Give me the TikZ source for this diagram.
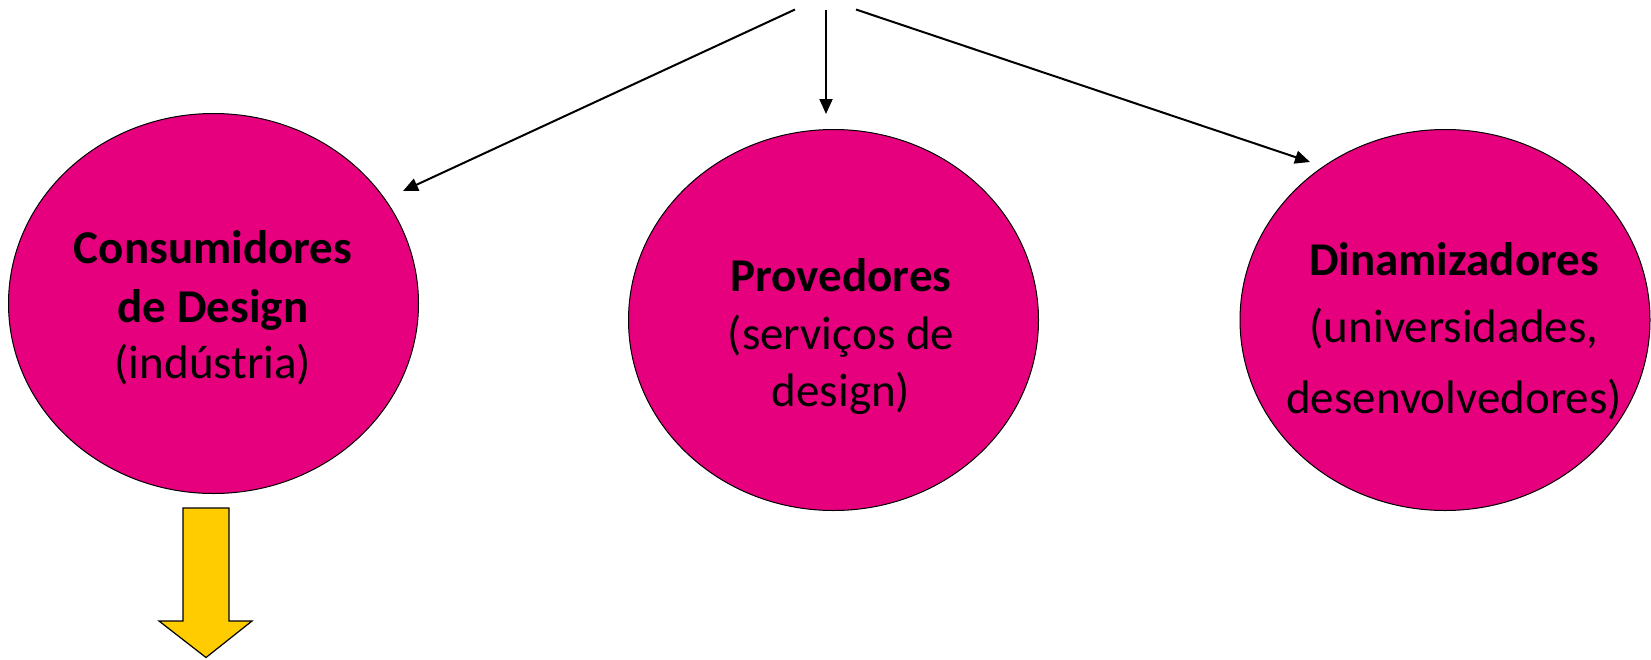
\documentclass[tikz,border=0pt]{standalone}
\usepackage{fontspec}
\setmainfont{Carlito}
\usetikzlibrary{shapes.geometric,arrows.meta}
\definecolor{mag}{RGB}{230,0,126}
\definecolor{yel}{RGB}{255,204,0}
\begin{document}
\begin{tikzpicture}[x=1pt,y=-1pt,
  blob/.style={ellipse,draw=black,line width=1pt,fill=mag,inner sep=0pt,minimum width=410pt},
  lbl/.style={anchor=base,inner sep=0pt,font=\fontsize{47}{57}\selectfont},
  blbl/.style={lbl,font=\fontsize{47}{57}\selectfont\bfseries},
  conn/.style={line width=2pt,-{Triangle[length=15pt,width=13pt]}}]
\useasboundingbox (0,0) rectangle (1651,659);
\node[blob,minimum height=380pt] (cons) at (213.5,303.5) {};
\node[blob,minimum height=381pt] (prov) at (833.5,320) {};
\node[blob,minimum height=381pt] (dina) at (1445,320) {};
% texts
\node[blbl] (c1) at (213,263) {Consumidores};
\node[blbl] (c2) at (213,322) {de Design};
\node[lbl]  (c3) at (213,378) {(indústria)};
\node[blbl] (p1) at (841,291) {Provedores};
\node[lbl]  (p2) at (841,349) {(serviços de};
\node[lbl]  (p3) at (841,406) {design)};
\node[blbl] (d1) at (1454,275) {Dinamizadores};
\node[lbl]  (d2) at (1454,342) {(universidades,};
\node[lbl]  (d3) at (1454,413) {desenvolvedores)};
% top arrows
\coordinate (s1) at (795,9.5);
\coordinate (s2) at (826,9.5);
\coordinate (s3) at (856,9.5);
\coordinate (e1) at (403,191);
\coordinate (e2) at (826,114);
\coordinate (e3) at (1310,162);
\draw[conn] (s1) -- (e1);
\draw[conn] (s2) -- (e2);
\draw[conn] (s3) -- (e3);
% yellow block arrow
\draw[fill=yel,line width=1.2pt,line join=miter]
  (183,508) -- (229,508) -- (229,621) -- (252,621) -- (206,657.5)
  -- (159,621) -- (183,621) -- cycle;
\end{tikzpicture}
\end{document}
